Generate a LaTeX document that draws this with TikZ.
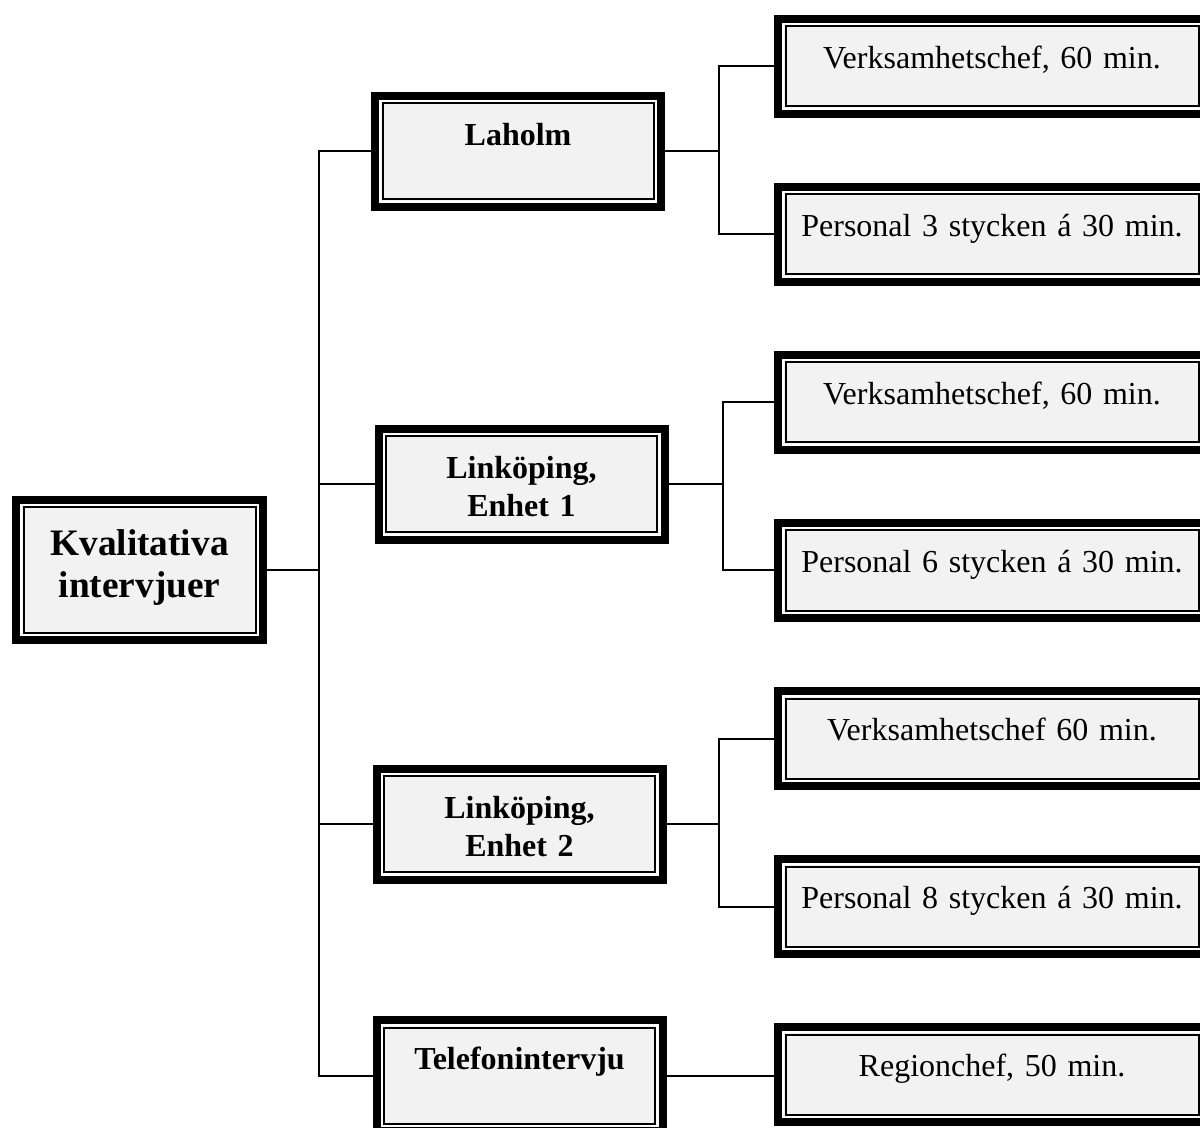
\documentclass[tikz,border=0pt]{standalone}
\usepackage{fontspec}
\setmainfont{Liberation Serif}

\definecolor{boxgray}{HTML}{F2F2F2}

\tikzset{
  frame/.style={draw, line width=4pt, fill=boxgray, inner sep=0pt, align=center,
    path picture={
      \draw[white, line width=1.25pt]
        ([shift={(2.6pt,-2.6pt)}]path picture bounding box.north west) rectangle
        ([shift={(-2.6pt,2.6pt)}]path picture bounding box.south east);
      \draw[black, line width=1pt]
        ([shift={(3.75pt,-3.75pt)}]path picture bounding box.north west) rectangle
        ([shift={(-3.75pt,3.75pt)}]path picture bounding box.south east);
    }},
  rootbox/.style={frame, minimum width=123.5pt, minimum height=70pt, text width=118pt,
    font=\bfseries\fontsize{18.67}{21}\selectfont, text height=13pt, text depth=27.6pt},
  midbox/.style={frame, minimum width=143pt, minimum height=55.5pt, text width=138pt,
    font=\bfseries\fontsize{16}{19}\selectfont, text height=11pt, text depth=16.9pt},
  leafbox/.style={frame, minimum width=214pt, minimum height=47.5pt, text width=205pt,
    font=\fontsize{16}{19}\selectfont, text height=11pt, text depth=9pt},
  link/.style={line width=1pt},
}

\begin{document}
\begin{tikzpicture}[x=0.5pt, y=-0.5pt]
  \useasboundingbox (0,0) rectangle (1200,1128);
  \fill[white] (0,0) rectangle (1200,1128);

  % root and second level
  \node[rootbox] (root) at (139.5,570) {Kvalitativa\\intervjuer};
  \node[midbox] (lah) at (518,151.5) {Laholm};
  \node[midbox] (lk1) at (521.5,484.5) {Linköping,\\Enhet 1};
  \node[midbox] (lk2) at (519.5,824) {Linköping,\\Enhet 2};
  \node[midbox] (tel) at (519.5,1075.5) {Telefonintervju};

  % interviews
  \node[leafbox] (l1a) at (992,66.5) {Verksamhetschef, 60 min.};
  \node[leafbox] (l1b) at (992,234.5) {Personal 3 stycken á 30 min.};
  \node[leafbox] (l2a) at (992,402.5) {Verksamhetschef, 60 min.};
  \node[leafbox] (l2b) at (992,570.5) {Personal 6 stycken á 30 min.};
  \node[leafbox] (l3a) at (992,738.5) {Verksamhetschef 60 min.};
  \node[leafbox] (l3b) at (992,906.5) {Personal 8 stycken á 30 min.};
  \node[leafbox] (l4) at (992,1074.5) {Regionchef, 50 min.};

  \coordinate (trunk) at (319,0);
  \begin{scope}[link]
    \draw (root.east) -- (root.east -| trunk);
    \draw (lah.west) -| (tel.west -| trunk) -- (tel.west);
    \foreach \m in {lk1,lk2}
      \draw (\m.west) -- (\m.west -| trunk);
    \foreach \m/\a/\b/\x in {lah/l1a/l1b/719, lk1/l2a/l2b/723, lk2/l3a/l3b/719} {
      \coordinate (fork) at (\x,0);
      \draw (\m.east) -- (\m.east -| fork);
      \draw (\a.west) -| (\b.west -| fork) -- (\b.west);
    }
    \draw (tel.east) -- (tel.east -| l4.west);
  \end{scope}
\end{tikzpicture}
\end{document}
